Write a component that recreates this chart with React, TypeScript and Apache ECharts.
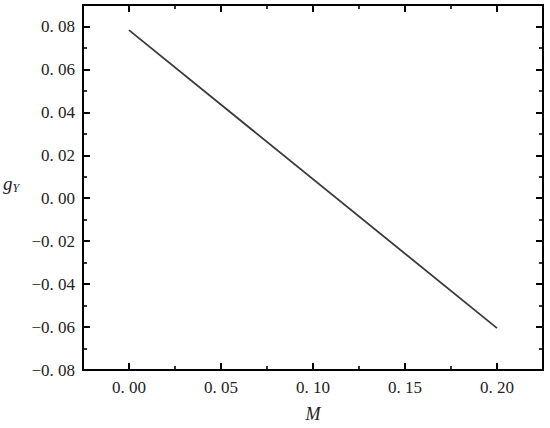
import React, { useEffect, useRef } from "react";
import * as echarts from "echarts";

const xValues = [0.0, 0.2];
const gY = [0.0783, -0.0605];
const xTicks = [0.0, 0.05, 0.1, 0.15, 0.2];
const xMinorTicks = [-0.025, 0.025, 0.075, 0.125, 0.175, 0.225];
const yTicks = [-0.08, -0.06, -0.04, -0.02, 0.0, 0.02, 0.04, 0.06, 0.08];
const yMinorTicks = [-0.07, -0.05, -0.03, -0.01, 0.01, 0.03, 0.05, 0.07, 0.09];

const fmt = (v: number) => {
  const s = Math.abs(v).toFixed(2).replace(".", ". ");
  return (v < -1e-9 ? "\u2212" : "") + s;
};

const FONT = "Liberation Serif, Times New Roman, serif";
const X_MIN = -0.025;
const X_MAX = 0.225;
const Y_MIN = -0.08;
const Y_MAX = 0.09;

export default function App() {
  const ref = useRef<HTMLDivElement>(null);
  useEffect(() => {
    if (!ref.current) return;
    const chart = echarts.init(ref.current, undefined, { renderer: "svg" });
    const lineOn = { show: true, onZero: false, lineStyle: { color: "#000", width: 2 } };
    const lineOff = { show: false, onZero: false };
    const major = (vals: number[]) => ({ show: true, inside: true, length: 7, customValues: vals, lineStyle: { color: "#000", width: 2 } });
    const minor = (vals: number[]) => ({ show: true, inside: true, length: 4, customValues: vals, lineStyle: { color: "#000", width: 1.6 } });
    const lbl = { color: "#222", fontSize: 17, fontFamily: FONT };
    const xBase = { type: "value", min: X_MIN, max: X_MAX, splitLine: { show: false } };
    const yBase = { type: "value", min: Y_MIN, max: Y_MAX, splitLine: { show: false } };
    chart.setOption({
      animation: false,
      backgroundColor: "#fff",
      textStyle: { fontFamily: FONT },
      grid: { left: 83, top: 5, right: 7, bottom: 51, containLabel: false },
      xAxis: [
        {
          ...xBase,
          position: "bottom",
          axisLine: lineOn,
          axisTick: major(xTicks),
          axisLabel: { ...lbl, margin: 9, customValues: xTicks, formatter: (v: number) => fmt(v) },
          name: "M",
          nameLocation: "middle",
          nameGap: 35,
          nameTextStyle: { fontSize: 18, fontStyle: "italic", fontFamily: FONT, color: "#222" },
        },
        { ...xBase, position: "bottom", axisLine: lineOff, axisTick: minor(xMinorTicks), axisLabel: { show: false } },
        { ...xBase, position: "top", axisLine: lineOn, axisTick: major(xTicks), axisLabel: { show: false } },
        { ...xBase, position: "top", axisLine: lineOff, axisTick: minor(xMinorTicks), axisLabel: { show: false } },
      ],
      yAxis: [
        {
          ...yBase,
          position: "left",
          axisLine: lineOn,
          axisTick: major(yTicks),
          axisLabel: { ...lbl, margin: 8, customValues: yTicks, formatter: (v: number) => fmt(v) },
        },
        { ...yBase, position: "left", axisLine: lineOff, axisTick: minor(yMinorTicks), axisLabel: { show: false } },
        { ...yBase, position: "right", axisLine: lineOn, axisTick: major(yTicks), axisLabel: { show: false } },
        { ...yBase, position: "right", axisLine: lineOff, axisTick: minor(yMinorTicks), axisLabel: { show: false } },
      ],
      graphic: [
        {
          type: "text",
          left: 3,
          top: 174,
          style: {
            text: "{g|g}{s|Y}",
            rich: {
              g: { fontSize: 19, fontStyle: "italic", fontFamily: FONT, fill: "#222" },
              s: { fontSize: 12, fontStyle: "italic", fontFamily: FONT, fill: "#222", padding: [8, 0, 0, 0] },
            },
          },
        },
      ],
      series: [
        {
          type: "line",
          xAxisIndex: 0,
          yAxisIndex: 0,
          data: xValues.map((x, i) => [x, gY[i]]),
          showSymbol: false,
          lineStyle: { color: "#3a3a3a", width: 1.8 },
        },
      ],
    });
    return () => chart.dispose();
  }, []);
  return <div ref={ref} style={{ width: 550, height: 428, position: "absolute", left: 0, top: 0 }} />;
}
